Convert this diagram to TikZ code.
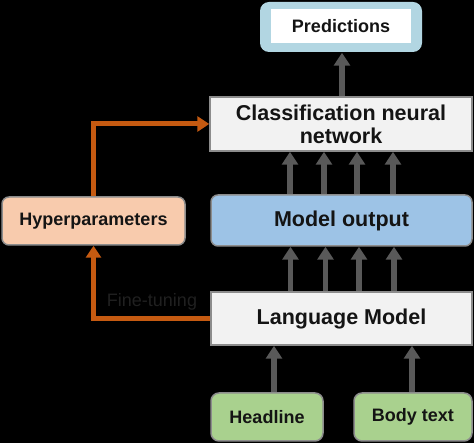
\documentclass[tikz,border=0pt]{standalone}
\usepackage{fontspec}
\setmainfont{Liberation Sans}
\usetikzlibrary{arrows.meta}
\definecolor{garrowc}{HTML}{595959}
\definecolor{orangec}{HTML}{C55A11}
\definecolor{predblue}{HTML}{B2D6E2}
\definecolor{mblue}{HTML}{9DC3E6}
\definecolor{hpfill}{HTML}{F8CBAD}
\definecolor{greenf}{HTML}{A9D18E}
\definecolor{boxgray}{HTML}{F2F2F2}
\definecolor{edgegray}{HTML}{8C8C8C}
\definecolor{txt}{HTML}{141414}
\definecolor{ftgray}{HTML}{202020}
\begin{document}
\begin{tikzpicture}[x=1pt,y=-1pt,
  box/.style={draw=edgegray,line width=1.5pt,text=txt,font=\fontsize{21.5}{24}\selectfont\bfseries,align=center,inner sep=0pt},
  smallbox/.style={box,font=\fontsize{18}{20}\selectfont\bfseries},
  garrow/.style={draw=garrowc,line width=5.5pt,-{Triangle[width=16pt,length=13pt]}},
  oarrow/.style={draw=orangec,line width=5pt,-{Triangle[width=15pt,length=12pt]}}]
\fill[black] (0,0) rectangle (474,443);
\useasboundingbox (0,0) rectangle (474,443);
% nodes
\node[smallbox,draw=none,fill=predblue,rounded corners=9pt,minimum width=162pt,minimum height=50pt] (predo) at (341,27) {};
\node[smallbox,draw=none,fill=white,minimum width=140pt,minimum height=34pt] (pred) at (341,26) {Predictions};
\node[box,fill=boxgray,minimum width=262pt,minimum height=54pt] (cnn) at (341,124) {Classification neural\\[-1pt]network};
\node[box,fill=mblue,rounded corners=7pt,minimum width=261pt,minimum height=51pt] (mo) at (341.5,220.5) {Model output};
\node[box,fill=boxgray,minimum width=261pt,minimum height=53pt] (lm) at (341.5,318.5) {Language Model};
\node[smallbox,fill=greenf,rounded corners=8pt,minimum width=112pt,minimum height=48pt] (hl) at (267,417) {Headline};
\node[smallbox,fill=greenf,rounded corners=8pt,minimum width=118pt,minimum height=48pt] (bt) at (413,417) {Body text};
\node[smallbox,fill=hpfill,rounded corners=7pt,minimum width=183pt,minimum height=48pt] (hp) at (93.5,221) {Hyperparameters};
\node[text=ftgray,font=\fontsize{18}{20}\selectfont,inner sep=0pt] (ft) at (152,302) {Fine-tuning};
% gray arrows
\draw[garrow] ([xshift=1pt]cnn.north) -- ([xshift=1pt]predo.south);
\foreach \dx in {-51,-17,16,52}
  \draw[garrow] ([xshift=\dx pt]mo.north -| cnn.center) -- ([xshift=\dx pt]cnn.south);
\foreach \dx in {-51,-16,17.5,52.5}
  \draw[garrow] ([xshift=\dx pt]lm.north -| mo.center) -- ([xshift=\dx pt]mo.south);
\draw[garrow] ([xshift=7pt]hl.north) -- ([xshift=7pt]hl.north |- lm.south);
\draw[garrow] ([xshift=-1pt]bt.north) -- ([xshift=-1pt]bt.north |- lm.south);
% orange arrows
\draw[oarrow] (lm.west) -| (hp.south);
\draw[oarrow] (hp.north) |- (cnn.west);
\end{tikzpicture}
\end{document}
